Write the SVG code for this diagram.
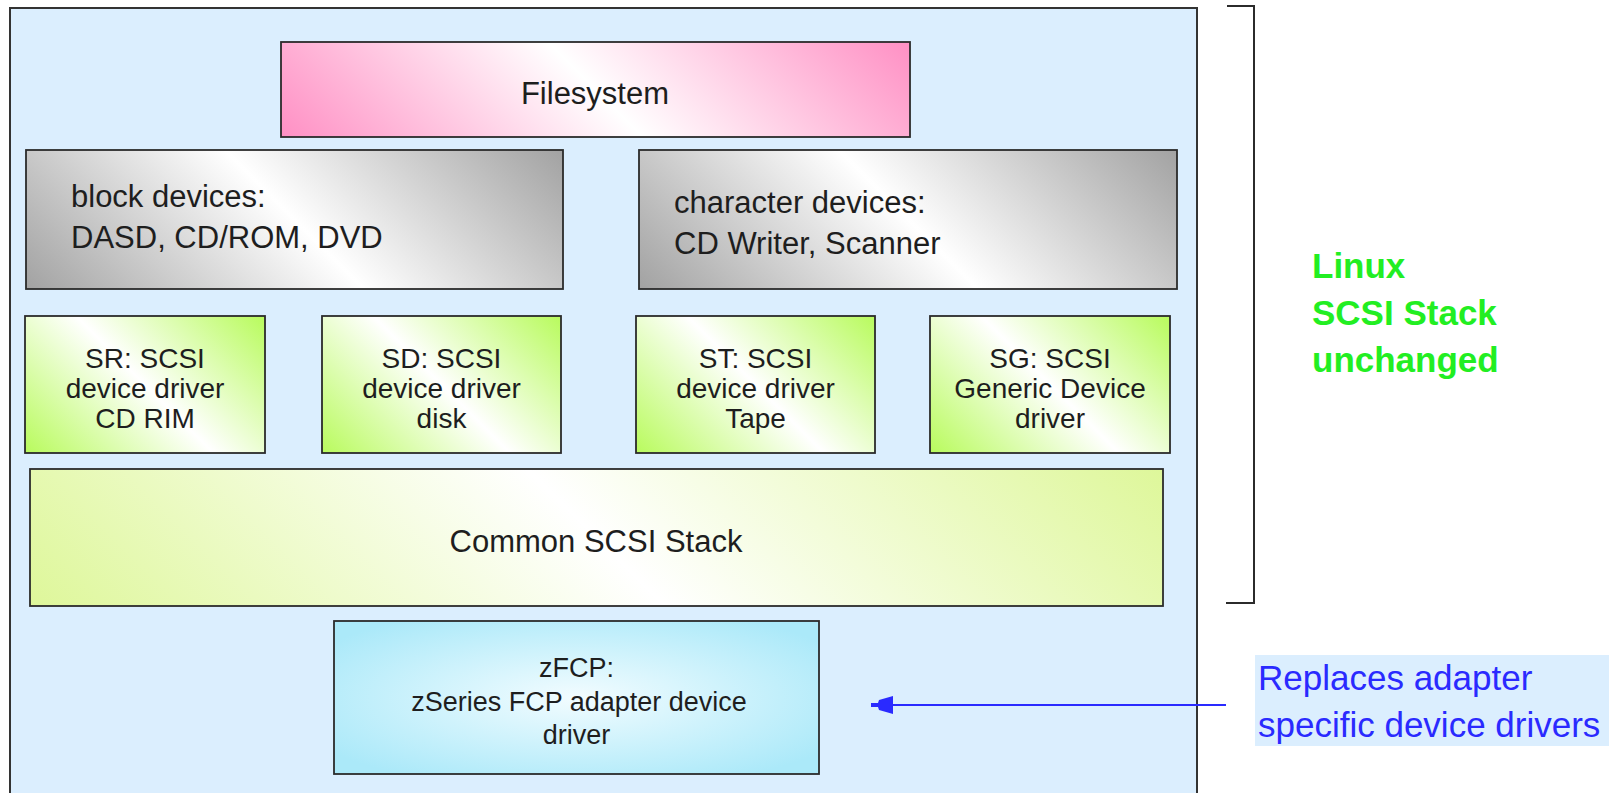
<svg xmlns="http://www.w3.org/2000/svg" width="1609" height="793" viewBox="0 0 1609 793">
  <style>
    .box { stroke: #2b2b2b; stroke-width: 1.8; }
    .t { font-family: "Liberation Sans", Arial, sans-serif; fill: #1e1e1e; }
    .big { font-size: 31px; }
    .mid { font-size: 28px; }
    .sm { font-size: 27px; }
    .c { text-anchor: middle; }
    .green { font-family: "Liberation Sans", Arial, sans-serif; font-weight: bold; font-size: 35px; fill: #22ee22; }
    .blue { font-family: "Liberation Sans", Arial, sans-serif; font-size: 35px; fill: #2a2aff; }
  </style>
  <defs>
    <!-- diagonal "corner - white - corner" fills, set per box in user space -->
    <linearGradient id="gFs" gradientUnits="userSpaceOnUse" x1="411" y1="273" x2="780" y2="-94">
      <stop offset="0" stop-color="#ff8ec3"/>
      <stop offset="0.5" stop-color="#ffffff"/>
      <stop offset="1" stop-color="#ff8ec3"/>
    </linearGradient>
    <linearGradient id="gBlk" gradientUnits="userSpaceOnUse" x1="125" y1="388" x2="463" y2="50">
      <stop offset="0" stop-color="#a2a2a2"/>
      <stop offset="0.5" stop-color="#ffffff"/>
      <stop offset="1" stop-color="#a2a2a2"/>
    </linearGradient>
    <linearGradient id="gChr" gradientUnits="userSpaceOnUse" x1="739" y1="388" x2="1077" y2="50">
      <stop offset="0" stop-color="#a2a2a2"/>
      <stop offset="0.5" stop-color="#ffffff"/>
      <stop offset="1" stop-color="#a2a2a2"/>
    </linearGradient>
    <linearGradient id="gSR" gradientUnits="userSpaceOnUse" x1="51" y1="479" x2="239" y2="290">
      <stop offset="0" stop-color="#b8fb5c"/>
      <stop offset="0.5" stop-color="#ffffff"/>
      <stop offset="1" stop-color="#b8fb5c"/>
    </linearGradient>
    <linearGradient id="gSD" gradientUnits="userSpaceOnUse" x1="347" y1="479" x2="536" y2="290">
      <stop offset="0" stop-color="#b8fb5c"/>
      <stop offset="0.5" stop-color="#ffffff"/>
      <stop offset="1" stop-color="#b8fb5c"/>
    </linearGradient>
    <linearGradient id="gST" gradientUnits="userSpaceOnUse" x1="661" y1="479" x2="850" y2="290">
      <stop offset="0" stop-color="#b8fb5c"/>
      <stop offset="0.5" stop-color="#ffffff"/>
      <stop offset="1" stop-color="#b8fb5c"/>
    </linearGradient>
    <linearGradient id="gSG" gradientUnits="userSpaceOnUse" x1="956" y1="479" x2="1144" y2="290">
      <stop offset="0" stop-color="#b8fb5c"/>
      <stop offset="0.5" stop-color="#ffffff"/>
      <stop offset="1" stop-color="#b8fb5c"/>
    </linearGradient>
    <linearGradient id="gCom" gradientUnits="userSpaceOnUse" x1="279" y1="855" x2="914" y2="220">
      <stop offset="0" stop-color="#def79a"/>
      <stop offset="0.5" stop-color="#ffffff"/>
      <stop offset="1" stop-color="#def79a"/>
    </linearGradient>
    <radialGradient id="gFcp" cx="0.5" cy="0.5" r="0.62">
      <stop offset="0" stop-color="#f2fcff"/>
      <stop offset="1" stop-color="#abe9f9"/>
    </radialGradient>
  </defs>

  <!-- enclosing frame -->
  <rect id="frame" x="10" y="8" width="1187" height="800" fill="#dbeefe" stroke="#333333" stroke-width="2"/>

  <g id="filesystem">
    <rect class="box" x="281" y="42" width="629" height="95" fill="url(#gFs)"/>
    <text class="t big c" x="595" y="104">Filesystem</text>
  </g>

  <g id="block-devices">
    <rect class="box" x="26" y="150" width="537" height="139" fill="url(#gBlk)"/>
    <text class="t big" x="71" y="207">block devices:</text>
    <text class="t big" x="71" y="248">DASD, CD/ROM, DVD</text>
  </g>

  <g id="character-devices">
    <rect class="box" x="639" y="150" width="538" height="139" fill="url(#gChr)"/>
    <text class="t big" x="674" y="213">character devices:</text>
    <text class="t big" x="674" y="254">CD Writer, Scanner</text>
  </g>

  <g id="sr">
    <rect class="box" x="25" y="316" width="240" height="137" fill="url(#gSR)"/>
    <text class="t mid c" x="145" y="368">SR: SCSI</text>
    <text class="t mid c" x="145" y="398">device driver</text>
    <text class="t mid c" x="145" y="428">CD RIM</text>
  </g>

  <g id="sd">
    <rect class="box" x="322" y="316" width="239" height="137" fill="url(#gSD)"/>
    <text class="t mid c" x="441.5" y="368">SD: SCSI</text>
    <text class="t mid c" x="441.5" y="398">device driver</text>
    <text class="t mid c" x="441.5" y="428">disk</text>
  </g>

  <g id="st">
    <rect class="box" x="636" y="316" width="239" height="137" fill="url(#gST)"/>
    <text class="t mid c" x="755.5" y="368">ST: SCSI</text>
    <text class="t mid c" x="755.5" y="398">device driver</text>
    <text class="t mid c" x="755.5" y="428">Tape</text>
  </g>

  <g id="sg">
    <rect class="box" x="930" y="316" width="240" height="137" fill="url(#gSG)"/>
    <text class="t mid c" x="1050" y="368">SG: SCSI</text>
    <text class="t mid c" x="1050" y="398">Generic Device</text>
    <text class="t mid c" x="1050" y="428">driver</text>
  </g>

  <g id="common-scsi">
    <rect class="box" x="30" y="469" width="1133" height="137" fill="url(#gCom)"/>
    <text class="t big c" x="596" y="552">Common SCSI Stack</text>
  </g>

  <g id="zfcp">
    <rect class="box" x="334" y="621" width="485" height="153" fill="url(#gFcp)"/>
    <text class="t sm c" x="576.5" y="677">zFCP:</text>
    <text class="t sm c" x="579" y="711">zSeries FCP adapter device</text>
    <text class="t sm c" x="576.5" y="744">driver</text>
  </g>

  <!-- bracket and label for the unchanged part -->
  <g id="stack-note">
    <path d="M1227,6 H1254 V603 H1226" fill="none" stroke="#2b2b2b" stroke-width="2"/>
    <text class="green" x="1312" y="278">Linux</text>
    <text class="green" x="1312" y="325">SCSI Stack</text>
    <text class="green" x="1312" y="372">unchanged</text>
  </g>

  <g id="adapter-note">
    <rect x="1255" y="655" width="360" height="91" fill="#dbeefe"/>
    <text class="blue" x="1258" y="690">Replaces adapter</text>
    <text class="blue" x="1258" y="737">specific device drivers</text>
  </g>

  <g id="connectors">
    <line x1="1226" y1="705" x2="892" y2="705" stroke="#2a2aff" stroke-width="2"/>
    <polygon points="871,703 878,703 879,700 893,696 893,714 879,710 878,707 871,707" fill="#2a2aff"/>
  </g>
</svg>
